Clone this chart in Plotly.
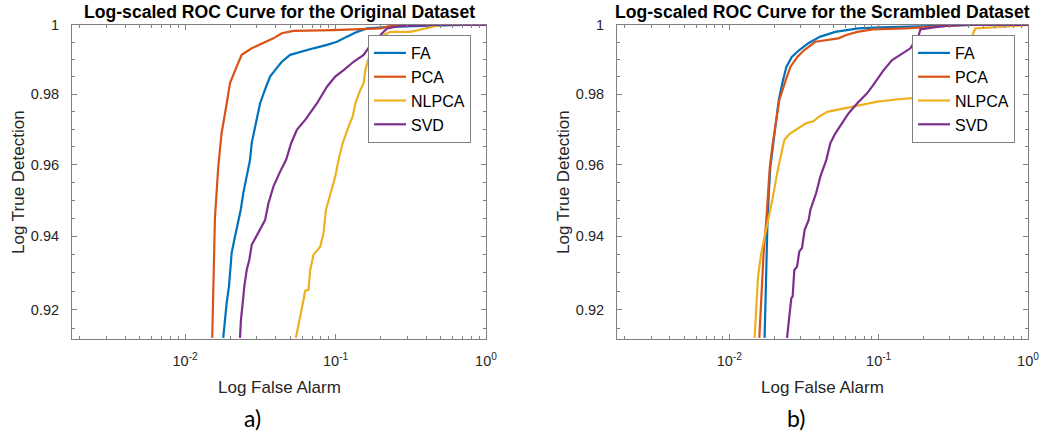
import math
import plotly.graph_objects as go

# ---------------- data ----------------
series_names = ["FA", "PCA", "NLPCA", "SVD"]

# a) Original dataset
orig_fa_x = [0.01792, 0.01839, 0.01888, 0.01956, 0.01986, 0.02039, 0.02145, 0.02256, 0.02341, 0.02436,
             0.02566, 0.027, 0.02772, 0.02915, 0.0304, 0.03148, 0.03451, 0.03671, 0.03963, 0.04392,
             0.04989, 0.05817, 0.07134, 0.08766, 0.1022, 0.1191, 0.1389, 0.1619, 0.25, 0.7, 1.0]
orig_fa_y = [0.9125, 0.9174, 0.9219, 0.9263, 0.9308, 0.9355, 0.9400, 0.9445, 0.9473, 0.9520,
             0.9566, 0.9613, 0.9661, 0.9707, 0.9735, 0.9773, 0.9821, 0.9850, 0.9869, 0.9893,
             0.9913, 0.9922, 0.9932, 0.9942, 0.9951, 0.9966, 0.9980, 0.9990, 0.9995, 1.0, 1.0]

orig_pca_x = [0.01514, 0.01578, 0.0166, 0.01748, 0.01868, 0.01986, 0.02201, 0.02377, 0.02772, 0.03311,
              0.03861, 0.04392, 0.05248, 0.0965, 0.1619, 0.1986, 0.2425, 1.0]
orig_pca_y = [0.9125, 0.9451, 0.9593, 0.9689, 0.9760, 0.9831, 0.9879, 0.9913, 0.9932, 0.99465,
              0.9961, 0.9976, 0.9983, 0.9985, 0.9988, 0.9990, 1.0, 1.0]

orig_nlpca_x = [0.05445, 0.05728, 0.06062, 0.06281, 0.06607, 0.06783, 0.07134, 0.07907, 0.08318, 0.0863,
                0.09462, 0.09954, 0.1047, 0.1114, 0.1221, 0.1298, 0.1353, 0.1461, 0.1537, 0.1578,
                0.17, 0.19, 0.2093, 0.2316, 0.3148, 0.3671, 0.4502, 0.4989, 1.0]
orig_nlpca_y = [0.9125, 0.9174, 0.9218, 0.9252, 0.9254, 0.9308, 0.9350, 0.9372, 0.9409, 0.9473,
                0.9538, 0.9566, 0.9613, 0.9660, 0.9707, 0.9735, 0.9773, 0.9812, 0.9831, 0.9869,
                0.9920, 0.9960, 0.9971, 0.9980, 0.9980, 0.9987, 0.9995, 1.0, 1.0]

orig_svd_x = [0.02316, 0.0235, 0.02413, 0.02473, 0.02566, 0.02671, 0.02772, 0.03067, 0.034, 0.03576,
              0.03861, 0.04279, 0.04691, 0.05067, 0.05531, 0.06281, 0.07, 0.07516, 0.08766, 0.09954,
              0.1131, 0.1318, 0.1537, 0.17, 0.19, 0.2039, 0.2202, 0.27, 0.448, 1.0]
orig_svd_y = [0.9125, 0.9174, 0.9218, 0.9263, 0.9308, 0.9336, 0.9377, 0.9409, 0.9445, 0.9491,
              0.9538, 0.9580, 0.9613, 0.9660, 0.9698, 0.9726, 0.9754, 0.9773, 0.9821, 0.9850,
              0.9869, 0.9893, 0.9913, 0.9940, 0.9960, 0.9976, 0.9990, 0.9997, 1.0, 1.0]

# b) Scrambled dataset
scr_fa_x = [0.01723, 0.01742, 0.01769, 0.01797, 0.01839, 0.01882, 0.01971, 0.02064, 0.02145, 0.02265,
            0.02409, 0.02622, 0.02943, 0.03382, 0.04069, 0.05129, 0.07311, 0.1027, 0.1903, 0.4444, 1.0]
scr_fa_y = [0.9125, 0.9219, 0.9308, 0.9423, 0.9520, 0.9593, 0.9661, 0.9734, 0.9783, 0.9832,
            0.9878, 0.9907, 0.9927, 0.9947, 0.9966, 0.9980, 0.9990, 0.99933, 0.99962, 1.0, 1.0]

scr_pca_x = [0.01588, 0.01638, 0.01682, 0.01697, 0.01769, 0.01811, 0.01867, 0.01956, 0.02064, 0.02162,
             0.02353, 0.02563, 0.02855, 0.0318, 0.03767, 0.04603, 0.05372, 0.06076, 0.07201, 0.09074,
             0.151, 0.259, 0.3808, 1.0]
scr_pca_y = [0.9125, 0.9219, 0.9308, 0.9355, 0.9445, 0.9520, 0.9593, 0.9661, 0.9734, 0.9783,
             0.9832, 0.9878, 0.9907, 0.9927, 0.9951, 0.99561, 0.9961, 0.9971, 0.9980, 0.99874,
             0.9990, 0.99962, 1.0, 1.0]

scr_nlpca_x = [0.01477, 0.01516, 0.01557, 0.01638, 0.01723, 0.01825, 0.01941, 0.02113, 0.02247, 0.02335,
               0.02523, 0.02855, 0.03279, 0.03653, 0.03945, 0.04533, 0.0554, 0.06463, 0.07541, 0.098,
               0.1355, 0.1682, 0.259, 0.4243, 0.4272, 0.4444, 0.6534, 1.0]
scr_nlpca_y = [0.9125, 0.9219, 0.9290, 0.9355, 0.9399, 0.9445, 0.9501, 0.9585, 0.9641, 0.9669,
               0.9686, 0.9700, 0.9717, 0.9722, 0.9734, 0.9749, 0.9757, 0.9763, 0.9769, 0.9778,
               0.9785, 0.9788, 0.9791, 0.9795, 0.99737, 0.9990, 0.99941, 1.0]

scr_svd_x = [0.02435, 0.02473, 0.02523, 0.02602, 0.02655, 0.02725, 0.02841, 0.02943, 0.03068, 0.03194,
             0.03398, 0.03488, 0.03808, 0.04069, 0.04463, 0.04747, 0.05129, 0.05687, 0.06296, 0.07166,
             0.08363, 0.09033, 0.1, 0.108, 0.123, 0.1435, 0.1632, 0.1859, 0.1903, 0.2335, 0.2872,
             0.3526, 1.0]
scr_svd_y = [0.9125, 0.9155, 0.9174, 0.9232, 0.9236, 0.9308, 0.9317, 0.9359, 0.9368, 0.9418,
             0.9445, 0.9473, 0.9519, 0.9566, 0.9613, 0.9660, 0.9688, 0.9717, 0.9745, 0.9773,
             0.9802, 0.9821, 0.9850, 0.9869, 0.9898, 0.9917, 0.9932, 0.9971, 0.99874, 0.99933, 0.9998,
             1.0, 1.0]

titles = ["Log-scaled ROC Curve for the Original Dataset",
          "Log-scaled ROC Curve for the Scrambled Dataset"]
panel_labels = ["a)", "b)"]
x_label = "Log False Alarm"
y_label = "Log True Detection"
x_tickvals = [0.01, 0.1, 1.0]
x_ticktext = ["10<sup>-2</sup>", "10<sup>-1</sup>", "10<sup>0</sup>"]
y_tickvals = [0.92, 0.94, 0.96, 0.98, 1.0]
y_ticktext = ["0.92", "0.94", "0.96", "0.98", "1"]

# ---------------- style ----------------
W, H = 1046, 438
colors = ["#0072BD", "#D95319", "#EDB120", "#7E2F8E"]
FONT = "Liberation Sans, Arial, sans-serif"
TEXT = "#262626"
AXC = "#808080"
X_MIN, Y_MIN = 0.00177, 0.9122

# pixel geometry of the two axes boxes
boxes = [(72, 486), (617, 1028)]
top_px, bot_px = 25, 339

def px(xp):
    return xp / W

def py(yp):
    return 1 - yp / H

x_minor = [k * 10.0 ** e for e in (-3, -2, -1) for k in range(2, 10) if k * 10.0 ** e >= X_MIN]
y_minor = [round(0.915 + 0.005 * i, 3) for i in range(18)]
y_minor = [v for v in y_minor if v <= 1.0 and all(abs(v - t) > 1e-9 for t in y_tickvals)]

fig = go.Figure()

panels = [
    [(orig_fa_x, orig_fa_y), (orig_pca_x, orig_pca_y), (orig_nlpca_x, orig_nlpca_y), (orig_svd_x, orig_svd_y)],
    [(scr_fa_x, scr_fa_y), (scr_pca_x, scr_pca_y), (scr_nlpca_x, scr_nlpca_y), (scr_svd_x, scr_svd_y)],
]

for p, series in enumerate(panels):
    xa = "x" if p == 0 else "x2"
    ya = "y" if p == 0 else "y2"
    leg = "legend" if p == 0 else "legend2"
    for name, (xs, ys), c in zip(series_names, series, colors):
        fig.add_trace(go.Scatter(x=xs, y=ys, mode="lines", name=name,
                                 line=dict(color=c, width=2.2),
                                 xaxis=xa, yaxis=ya, legend=leg, showlegend=True))

axis_common = dict(showline=True, linecolor=AXC, linewidth=1, mirror="ticks",
                   ticks="inside", ticklen=5, tickwidth=1, tickcolor=AXC,
                   showgrid=False, zeroline=False, type="log", automargin=False,
                   tickfont=dict(family=FONT, size=14.5, color=TEXT))

layout = dict(template="none", width=W, height=H, margin=dict(l=0, r=0, t=0, b=0, pad=0),
              paper_bgcolor="white", plot_bgcolor="white",
              font=dict(family=FONT, color=TEXT), showlegend=True)

annotations = []
for p, (x0, x1) in enumerate(boxes):
    sfx = "" if p == 0 else "2"
    layout["xaxis" + sfx] = dict(axis_common, domain=[px(x0), px(x1)],
                                 range=[math.log10(X_MIN), 0],
                                 tickmode="array", tickvals=x_tickvals, ticktext=x_ticktext,
                                 ticklabelstandoff=9,
                                 minor=dict(tickmode="array", tickvals=x_minor, ticklen=3,
                                            tickcolor=AXC, ticks="inside", showgrid=False),
                                 anchor="y" + sfx)
    layout["yaxis" + sfx] = dict(axis_common, domain=[py(bot_px), py(top_px)],
                                 range=[math.log10(Y_MIN), 0],
                                 tickmode="array", tickvals=y_tickvals, ticktext=y_ticktext,
                                 ticklabelstandoff=9,
                                 minor=dict(tickmode="array", tickvals=y_minor, ticklen=3,
                                            tickcolor=AXC, ticks="inside", showgrid=False),
                                 anchor="x" + sfx)
    cx = (x0 + x1) / 2
    annotations.append(dict(text="<b>" + titles[p] + "</b>", x=px(cx), y=py(12), xref="paper", yref="paper",
                            showarrow=False, xanchor="center", yanchor="middle",
                            font=dict(family=FONT, size=17.6, color="#000000")))
    annotations.append(dict(text=x_label, x=px(cx), y=py(387), xref="paper", yref="paper",
                            showarrow=False, xanchor="center", yanchor="middle",
                            font=dict(family=FONT, size=17, color=TEXT)))
    annotations.append(dict(text=y_label, x=px(x0 - 54), y=py((top_px + bot_px) / 2), xref="paper", yref="paper",
                            showarrow=False, xanchor="center", yanchor="middle", textangle=-90,
                            font=dict(family=FONT, size=17, color=TEXT)))
    annotations.append(dict(text=panel_labels[p], x=px(cx - 27), y=py(418), xref="paper", yref="paper",
                            showarrow=False, xanchor="center", yanchor="middle",
                            font=dict(family="Lato, Open Sans, sans-serif", size=23, color="#000000")))

legend_common = dict(bgcolor="white", bordercolor=AXC, borderwidth=1,
                     font=dict(family=FONT, size=16, color="#000000"),
                     xanchor="left", yanchor="top", xref="paper", yref="paper",
                     tracegroupgap=0, itemwidth=32)
layout["legend"] = dict(legend_common, x=px(368), y=py(35))
layout["legend2"] = dict(legend_common, x=px(912), y=py(35))
layout["annotations"] = annotations

fig.update_layout(**layout)
fig.write_html("out.html", config={"displayModeBar": False},
               post_script="document.body.style.margin='0';document.body.style.overflow='hidden';")
